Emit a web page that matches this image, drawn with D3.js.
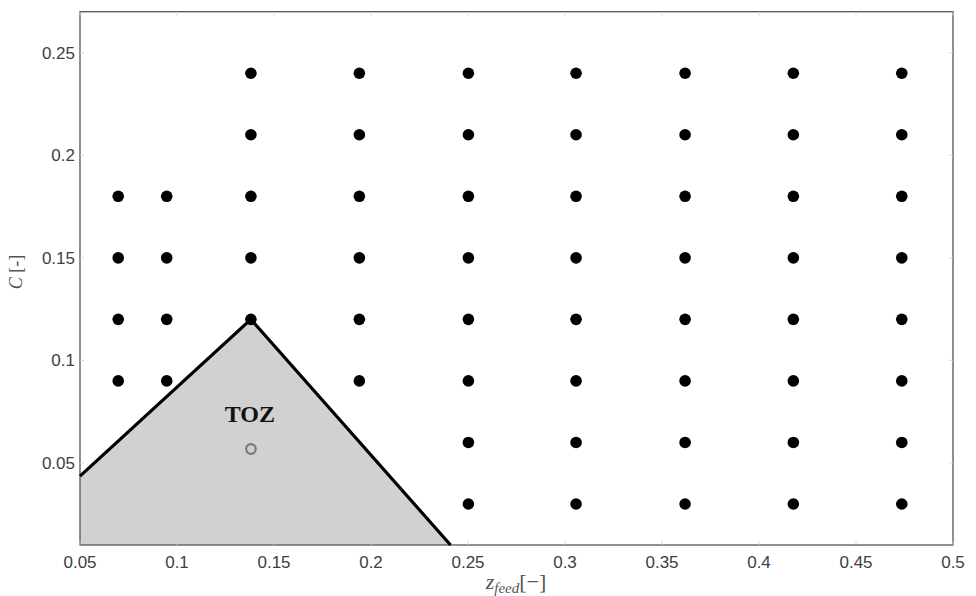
<!DOCTYPE html>
<html>
<head>
<meta charset="utf-8">
<script src="https://cdn.jsdelivr.net/npm/d3@7"></script>
<style>
  html, body { margin: 0; padding: 0; background: #ffffff; }
  svg { display: block; }
</style>
</head>
<body>
<svg id="chart" width="976" height="596"></svg>
<script>
// ---- data ----
const zFeedColumns = [0.0697, 0.0947, 0.1381, 0.194, 0.2502, 0.3057, 0.3619, 0.4177, 0.4736];
const cValuesPerColumn = [
  [0.18, 0.15, 0.12, 0.09],
  [0.18, 0.15, 0.12, 0.09],
  [0.24, 0.21, 0.18, 0.15, 0.12],
  [0.24, 0.21, 0.18, 0.15, 0.12, 0.09],
  [0.24, 0.21, 0.18, 0.15, 0.12, 0.09, 0.06, 0.03],
  [0.24, 0.21, 0.18, 0.15, 0.12, 0.09, 0.06, 0.03],
  [0.24, 0.21, 0.18, 0.15, 0.12, 0.09, 0.06, 0.03],
  [0.24, 0.21, 0.18, 0.15, 0.12, 0.09, 0.06, 0.03],
  [0.24, 0.21, 0.18, 0.15, 0.12, 0.09, 0.06, 0.03]
];
const tozBoundary = [[0.05, 0.0436], [0.1381, 0.12], [0.241, 0.01]];
const tozPoint = [0.1381, 0.0568];
const tozLabel = "TOZ";
const xTicks = [0.05, 0.1, 0.15, 0.2, 0.25, 0.3, 0.35, 0.4, 0.45, 0.5];
const yTicks = [0.05, 0.1, 0.15, 0.2, 0.25];
const xDomain = [0.05, 0.5];
const yDomain = [0.01, 0.27];

// ---- layout ----
const svg = d3.select("#chart");
const L = 80, R = 953, T = 11.7, B = 545;
const x = d3.scaleLinear().domain(xDomain).range([L, R]);
const y = d3.scaleLinear().domain(yDomain).range([B, T]);

const points = [];
zFeedColumns.forEach((z, i) => cValuesPerColumn[i].forEach(c => points.push([z, c])));

// TOZ region fill
const fillPoly = [[xDomain[0], yDomain[0]], ...tozBoundary];
svg.append("path")
  .attr("d", d3.line().x(d => x(d[0])).y(d => y(d[1]))(fillPoly) + "Z")
  .attr("fill", "#d1d1d1")
  .attr("stroke", "none");

// frame
svg.append("rect")
  .attr("x", L).attr("y", T).attr("width", R - L).attr("height", B - T)
  .attr("fill", "none").attr("stroke", "#555").attr("stroke-width", 1.3);

// inward ticks (faint)
const tickLen = 4;
const tg = svg.append("g").attr("stroke", "#cfcfcf").attr("stroke-width", 0.8);
xTicks.forEach(t => {
  tg.append("line").attr("x1", x(t)).attr("x2", x(t)).attr("y1", B).attr("y2", B - tickLen);
  tg.append("line").attr("x1", x(t)).attr("x2", x(t)).attr("y1", T).attr("y2", T + tickLen);
});
yTicks.forEach(t => {
  tg.append("line").attr("y1", y(t)).attr("y2", y(t)).attr("x1", L).attr("x2", L + tickLen);
  tg.append("line").attr("y1", y(t)).attr("y2", y(t)).attr("x1", R).attr("x2", R - tickLen);
});

// TOZ boundary line
svg.append("path")
  .attr("d", d3.line().x(d => x(d[0])).y(d => y(d[1]))(tozBoundary))
  .attr("fill", "none")
  .attr("stroke", "#000")
  .attr("stroke-width", 3.2)
  .attr("stroke-linejoin", "miter");

// data points
svg.append("g").selectAll("circle")
  .data(points).join("circle")
  .attr("cx", d => x(d[0])).attr("cy", d => y(d[1]))
  .attr("r", 5.8).attr("fill", "#000");

// TOZ open circle
svg.append("circle")
  .attr("cx", x(tozPoint[0])).attr("cy", y(tozPoint[1]))
  .attr("r", 4.8).attr("fill", "none")
  .attr("stroke", "#7a7a7a").attr("stroke-width", 2.2);

// TOZ label
svg.append("text")
  .attr("x", x(tozPoint[0]) - 1).attr("y", 422)
  .attr("text-anchor", "middle")
  .attr("font-family", "'Liberation Serif', 'DejaVu Serif', serif")
  .attr("font-weight", "bold")
  .attr("font-size", 24)
  .attr("fill", "#111")
  .text(tozLabel);

// tick labels
const fmt = d => String(d);
svg.append("g").selectAll("text")
  .data(xTicks).join("text")
  .attr("x", d => x(d)).attr("y", 568)
  .attr("text-anchor", "middle")
  .attr("font-family", "'Liberation Sans', Arial, sans-serif")
  .attr("font-size", 17)
  .attr("fill", "#404040")
  .text(fmt);

svg.append("g").selectAll("text")
  .data(yTicks).join("text")
  .attr("x", 75).attr("y", d => y(d))
  .attr("dy", "0.35em")
  .attr("text-anchor", "end")
  .attr("font-family", "'Liberation Sans', Arial, sans-serif")
  .attr("font-size", 17)
  .attr("fill", "#404040")
  .text(fmt);

// y axis label
svg.append("text")
  .attr("transform", "translate(22,272) rotate(-90)")
  .attr("text-anchor", "middle")
  .attr("font-family", "'Liberation Serif', serif")
  .attr("font-size", 18)
  .attr("fill", "#555")
  .html('<tspan font-style="italic">C</tspan> [-]');

// x axis label
const xl = svg.append("text")
  .attr("x", 516).attr("y", 589)
  .attr("text-anchor", "middle")
  .attr("font-family", "'Liberation Serif', serif")
  .attr("font-size", 22)
  .attr("fill", "#555");
xl.append("tspan").attr("font-style", "italic").text("z");
xl.append("tspan").attr("font-style", "italic").attr("font-size", 15).attr("dy", 4).text("feed");
xl.append("tspan").attr("dy", -4).text("[−]");
</script>
</body>
</html>
